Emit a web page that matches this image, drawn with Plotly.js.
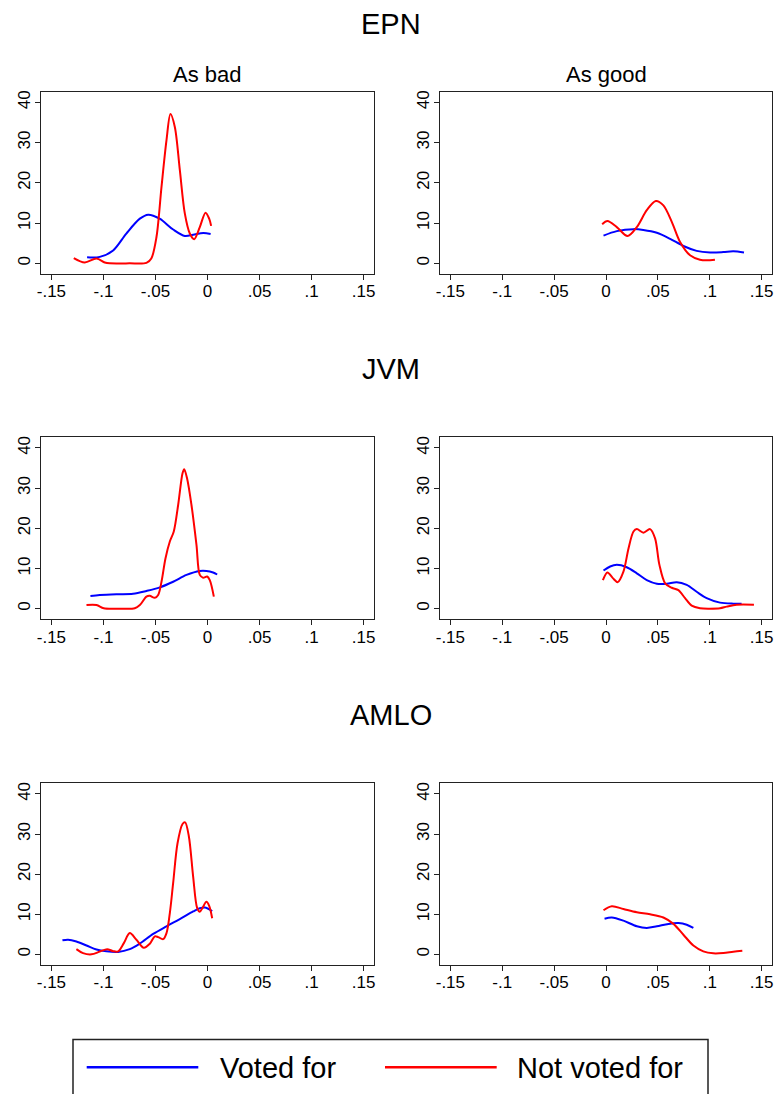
<!DOCTYPE html>
<html>
<head>
<meta charset="utf-8">
<script src="https://cdn.plot.ly/plotly-3.0.1.min.js"></script>
<style>
html,body{margin:0;padding:0;background:#fff;}
#chart{width:776px;height:1094px;}
</style>
</head>
<body>
<div id="chart"></div>
<script>
// ---- Data ----
const rowTitles = ["EPN", "JVM", "AMLO"];
const colTitles = ["As bad", "As good"];
const seriesNames = ["Voted for", "Not voted for"];
const xTickVals = [-0.15, -0.1, -0.05, 0, 0.05, 0.1, 0.15];
const xTickText = ["-.15", "-.1", "-.05", "0", ".05", ".1", ".15"];
const yTickVals = [0, 10, 20, 30, 40];
const yTickText = ["0", "10", "20", "30", "40"];

// EPN, as bad
const epnBadVotedX = [-0.1157, -0.1035, -0.0907, -0.078, -0.065, -0.057, -0.046, -0.033, -0.0218, -0.0138, -0.004, 0.003];
const epnBadVotedY = [1.5, 1.6, 3.2, 7.4, 11.1, 12.1, 11.1, 8.4, 6.8, 7.1, 7.55, 7.3];
const epnBadNotX = [-0.1285, -0.118, -0.1067, -0.0987, -0.094, -0.075, -0.0587, -0.054, -0.049, -0.0442, -0.0394, -0.0356, -0.0314, -0.0266, -0.0218, -0.017, -0.0128, -0.0074, -0.0019, 0.0016, 0.0035];
const epnBadNotY = [1.3, 0.2, 1.2, 0.2, 0.0, 0.0, 0.1, 1.2, 6.6, 19.0, 30.6, 37.1, 33.9, 23.2, 12.4, 7.4, 6.0, 9.0, 12.6, 11.1, 9.3];

// EPN, as good
const epnGoodVotedX = [-0.0024, 0.0104, 0.0265, 0.036, 0.049, 0.0618, 0.0746, 0.0874, 0.1003, 0.113, 0.1227, 0.133];
const epnGoodVotedY = [6.9, 8.0, 8.5, 8.3, 7.6, 6.1, 4.3, 3.1, 2.7, 2.8, 3.0, 2.7];
const epnGoodNotX = [-0.0037, 0.0014, 0.0104, 0.0207, 0.0297, 0.0393, 0.048, 0.0553, 0.0634, 0.0714, 0.081, 0.0906, 0.097, 0.105];
const epnGoodNotY = [9.7, 10.5, 9.0, 6.8, 9.0, 13.2, 15.5, 14.4, 10.3, 5.3, 2.0, 0.9, 0.75, 0.9];

// JVM, as bad
const jvmBadVotedX = [-0.1125, -0.1035, -0.0875, -0.0715, -0.0587, -0.0458, -0.033, -0.0202, -0.0074, -0.001, 0.0054, 0.0093];
const jvmBadVotedY = [3.15, 3.4, 3.6, 3.7, 4.4, 5.3, 6.7, 8.4, 9.4, 9.4, 9.0, 8.5];
const jvmBadNotX = [-0.1163, -0.1067, -0.0997, -0.085, -0.0699, -0.065, -0.0587, -0.0555, -0.0506, -0.0474, -0.0442, -0.0404, -0.0362, -0.0324, -0.0282, -0.024, -0.0224, -0.0196, -0.0154, -0.0106, -0.0074, -0.0042, -0.0003, 0.0022, 0.0061];
const jvmBadNotY = [0.9, 0.9, 0.1, 0.0, 0.1, 0.9, 3.0, 3.2, 2.7, 3.4, 6.7, 12.5, 16.7, 19.2, 25.8, 33.7, 34.7, 32.4, 25.8, 15.9, 8.4, 7.7, 8.0, 7.1, 3.0];

// JVM, as good
const jvmGoodVotedX = [-0.0024, 0.004, 0.0104, 0.02, 0.0297, 0.0393, 0.049, 0.0586, 0.0682, 0.0778, 0.0874, 0.097, 0.1099, 0.1227, 0.1307];
const jvmGoodVotedY = [9.5, 10.5, 10.9, 10.3, 8.8, 7.1, 6.2, 6.2, 6.6, 5.9, 4.2, 2.6, 1.5, 1.25, 1.25];
const jvmGoodNotX = [-0.003, 0.0014, 0.0066, 0.0114, 0.0168, 0.0217, 0.0265, 0.0297, 0.0361, 0.0425, 0.0473, 0.0515, 0.057, 0.0634, 0.0698, 0.0762, 0.0826, 0.0906, 0.1, 0.1099, 0.1163, 0.126, 0.1426];
const jvmGoodNotY = [7.1, 9.0, 7.6, 6.6, 9.2, 15.0, 19.2, 19.8, 18.9, 19.8, 17.5, 10.9, 6.3, 5.2, 4.6, 2.6, 0.75, 0.1, 0.0, 0.1, 0.5, 1.0, 1.0];

// AMLO, as bad
const amloBadVotedX = [-0.1394, -0.134, -0.126, -0.1163, -0.1067, -0.0971, -0.0859, -0.0747, -0.065, -0.0522, -0.0394, -0.0266, -0.0138, -0.0074, -0.0026, 0.0045];
const amloBadVotedY = [3.5, 3.65, 3.2, 2.2, 1.2, 0.75, 0.6, 1.3, 2.7, 5.1, 7.0, 8.8, 10.7, 11.5, 11.7, 10.8];
const amloBadNotX = [-0.126, -0.1196, -0.1115, -0.1035, -0.0965, -0.0907, -0.0859, -0.0804, -0.0747, -0.0683, -0.0612, -0.0554, -0.0506, -0.0474, -0.0426, -0.0394, -0.0362, -0.033, -0.0288, -0.024, -0.0215, -0.0179, -0.0138, -0.0099, -0.0074, -0.0048, -0.001, 0.0016, 0.0045];
const amloBadNotY = [1.3, 0.3, 0.0, 0.7, 1.3, 0.8, 0.75, 2.8, 5.3, 3.65, 1.65, 2.65, 4.5, 4.3, 3.8, 5.3, 10.3, 17.8, 27.7, 32.5, 32.9, 29.4, 19.4, 11.5, 10.6, 11.6, 13.1, 12.1, 9.0];

// AMLO, as good
const amloGoodVotedX = [-0.0014, 0.0056, 0.0168, 0.0297, 0.0393, 0.049, 0.0602, 0.0698, 0.0778, 0.0842];
const amloGoodVotedY = [8.9, 9.2, 8.4, 7.0, 6.6, 7.0, 7.6, 7.8, 7.4, 6.6];
const amloGoodNotX = [-0.0024, 0.0056, 0.0168, 0.0297, 0.0425, 0.0553, 0.065, 0.0746, 0.0842, 0.0938, 0.1035, 0.1131, 0.1227, 0.1314];
const amloGoodNotY = [11.0, 12.0, 11.3, 10.5, 10.0, 9.2, 7.6, 4.9, 2.2, 0.75, 0.25, 0.33, 0.66, 0.9];

// ---- Layout helpers ----
const W = 776, H = 1094;
const px = v => v / W;
const py = v => 1 - v / H;
const colBoxes = [[41, 374], [440, 772]];
const rowBoxes = [[91.7, 274], [437.3, 619.3], [783.3, 965]];
const rowTitleY = [24, 369.5, 715];
const colors = ["#0000ff", "#ff0000"];

const panels = [
  [[epnBadVotedX, epnBadVotedY, epnBadNotX, epnBadNotY], [epnGoodVotedX, epnGoodVotedY, epnGoodNotX, epnGoodNotY]],
  [[jvmBadVotedX, jvmBadVotedY, jvmBadNotX, jvmBadNotY], [jvmGoodVotedX, jvmGoodVotedY, jvmGoodNotX, jvmGoodNotY]],
  [[amloBadVotedX, amloBadVotedY, amloBadNotX, amloBadNotY], [amloGoodVotedX, amloGoodVotedY, amloGoodNotX, amloGoodNotY]]
];

const FONT = "Liberation Sans, Arial, Helvetica, sans-serif";
const traces = [];
const layout = {
  width: W, height: H,
  margin: {l: 0, r: 0, t: 0, b: 0},
  paper_bgcolor: "#ffffff",
  plot_bgcolor: "#ffffff",
  showlegend: false,
  font: {family: FONT, color: "#000000"},
  annotations: [],
  shapes: []
};

let k = 0;
for (let r = 0; r < 3; r++) {
  for (let c = 0; c < 2; c++) {
    k++;
    const xa = k === 1 ? "x" : "x" + k;
    const ya = k === 1 ? "y" : "y" + k;
    const d = panels[r][c];
    for (let s = 0; s < 2; s++) {
      traces.push({
        type: "scatter", mode: "lines",
        x: d[2 * s], y: d[2 * s + 1],
        name: seriesNames[s],
        xaxis: xa, yaxis: ya,
        line: {color: colors[s], width: 2, shape: "spline", smoothing: 0.9},
        hoverinfo: "skip"
      });
    }
    const axCommon = {
      showgrid: false, zeroline: false,
      showline: true, mirror: true, linecolor: "#222222", linewidth: 1,
      ticks: "outside", ticklen: 5, tickwidth: 1, tickcolor: "#222222",
      tickfont: {family: FONT, size: 17, color: "#000000"},
      fixedrange: true
    };
    layout["xaxis" + (k === 1 ? "" : k)] = Object.assign({}, axCommon, {
      domain: [px(colBoxes[c][0]), px(colBoxes[c][1])],
      range: [-0.16, 0.16],
      tickmode: "array", tickvals: xTickVals, ticktext: xTickText,
      anchor: ya, tickangle: 0, ticklabelstandoff: -3
    });
    layout["yaxis" + (k === 1 ? "" : k)] = Object.assign({}, axCommon, {
      domain: [py(rowBoxes[r][1]), py(rowBoxes[r][0])],
      range: [-2.65, 42.65],
      tickmode: "array", tickvals: yTickVals, ticktext: yTickText,
      anchor: xa, tickangle: -90, ticklabelstandoff: -2
    });
  }
  layout.annotations.push({
    text: rowTitles[r], xref: "paper", yref: "paper",
    x: px(390.5), y: py(rowTitleY[r]), xanchor: "center", yanchor: "middle",
    showarrow: false, font: {family: FONT, size: 29, color: "#000000"}
  });
}
for (let c = 0; c < 2; c++) {
  layout.annotations.push({
    text: colTitles[c], xref: "paper", yref: "paper",
    x: px((colBoxes[c][0] + colBoxes[c][1]) / 2), y: py(74.6),
    xanchor: "center", yanchor: "middle",
    showarrow: false, font: {family: FONT, size: 22, color: "#000000"}
  });
}

// Legend drawn as a framed key below the panels
layout.shapes.push({
  type: "rect", xref: "paper", yref: "paper",
  x0: px(73), x1: px(708), y0: py(1100), y1: py(1039.5),
  line: {color: "#222222", width: 1.5}, fillcolor: "rgba(0,0,0,0)"
});
const legendLines = [[86.7, 198.3], [385, 496.7]];
const legendTextX = [218, 515];
for (let s = 0; s < 2; s++) {
  layout.shapes.push({
    type: "line", xref: "paper", yref: "paper",
    x0: px(legendLines[s][0]), x1: px(legendLines[s][1]), y0: py(1067.3), y1: py(1067.3),
    line: {color: colors[s], width: 2.5}
  });
  layout.annotations.push({
    text: seriesNames[s], xref: "paper", yref: "paper",
    x: px(legendTextX[s]), y: py(1067.5), xanchor: "left", yanchor: "middle",
    showarrow: false, font: {family: FONT, size: 29, color: "#000000"}
  });
}

Plotly.newPlot("chart", traces, layout, {staticPlot: true, displayModeBar: false});
</script>
</body>
</html>
